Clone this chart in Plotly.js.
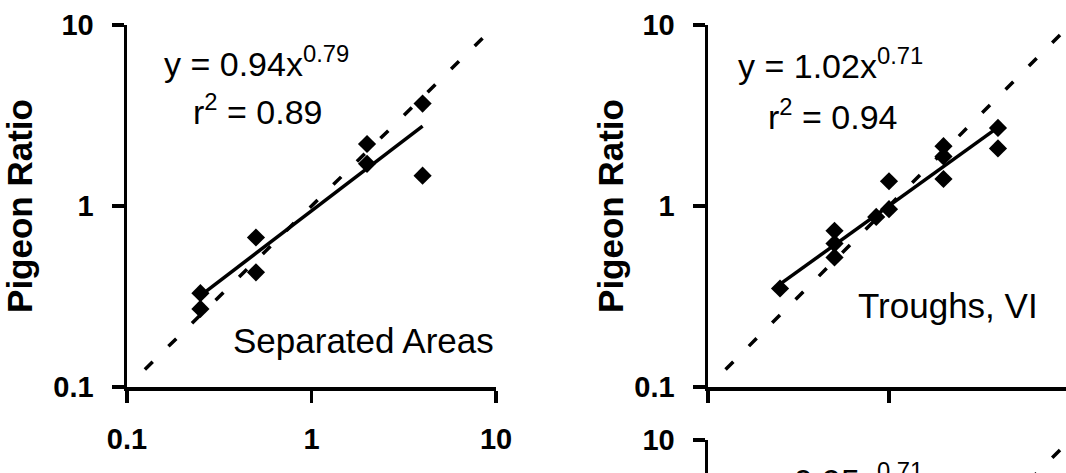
<!DOCTYPE html>
<html>
<head>
<meta charset="utf-8">
<script src="https://cdn.plot.ly/plotly-3.0.1.min.js"></script>
<style>
html, body { margin: 0; padding: 0; overflow: hidden; background: #fff; }
#chart { width: 1100px; height: 900px; }
</style>
</head>
<body>
<div id="chart"></div>
<script>
// ---- data ----
const tickVals = [0.1, 1, 10];
const tickText = ['0.1', '1', '10'];

// Panel 1: Separated Areas
const sepX = [0.25, 0.25, 0.5, 0.5, 2, 2, 4, 4];
const sepY = [0.33, 0.27, 0.67, 0.43, 2.2, 1.71, 3.68, 1.47];
const sepFitX = [0.25, 4];
const sepFitY = [0.32, 2.76];

// Panel 2: Troughs, VI
const troX = [0.25, 0.5, 0.5, 0.5, 0.85, 1, 1, 2, 2, 2, 4, 4];
const troY = [0.35, 0.73, 0.62, 0.52, 0.87, 1.37, 0.96, 2.14, 1.88, 1.41, 2.7, 2.08];
const troFitX = [0.25, 4];
const troFitY = [0.37, 2.72];

// Unity (y = x) reference line
const unityX = [0.125, 9.5];
const unityY = [0.125, 9.5];

// ---- layout helpers (pixel -> paper) ----
const W = 1100, H = 900;
const px = p => p / W;
const py = p => 1 - p / H;

const FONT = 'Liberation Sans, Arial, Helvetica, sans-serif';
const black = '#000';

const dashLine = (xa, ya) => ({
  x: unityX, y: unityY, xaxis: xa, yaxis: ya, mode: 'lines',
  line: { color: black, width: 3.5, dash: '11px,22px' }, hoverinfo: 'skip', showlegend: false
});
const fitLine = (xs, ys, xa, ya) => ({
  x: xs, y: ys, xaxis: xa, yaxis: ya, mode: 'lines',
  line: { color: black, width: 3.5 }, showlegend: false
});
const pts = (xs, ys, xa, ya) => ({
  x: xs, y: ys, xaxis: xa, yaxis: ya, mode: 'markers',
  marker: { symbol: 'diamond', size: 14, color: black }, showlegend: false
});

const data = [
  dashLine('x', 'y'), fitLine(sepFitX, sepFitY, 'x', 'y'), pts(sepX, sepY, 'x', 'y'),
  dashLine('x2', 'y2'), fitLine(troFitX, troFitY, 'x2', 'y2'), pts(troX, troY, 'x2', 'y2'),
  dashLine('x3', 'y3')
];

const baseAxis = {
  type: 'log', range: [-1, 1], showgrid: false, zeroline: false,
  showline: true, linecolor: black, linewidth: 3.5,
  ticks: 'outside', ticklen: 12, tickwidth: 3.5, tickcolor: black,
  tickmode: 'array', tickvals: tickVals, ticktext: tickText,
  tickfont: { family: FONT, size: 29, color: black, weight: 'bold' }
};
const yTitle = standoff => ({
  text: 'Pigeon Ratio', standoff: standoff,
  font: { family: FONT, size: 35, color: black, weight: 'bold' }
});
const innerTicks = (over, anchor) => ({
  type: 'log', range: [-1, 1], overlaying: over, anchor: anchor, side: 'left',
  showgrid: false, zeroline: false, showline: false, showticklabels: false,
  ticks: 'inside', ticklen: 12, tickwidth: 3.5, tickcolor: black,
  tickmode: 'array', tickvals: [1, 10]
});

const panelTop = 25, panelBot = 387;
const p3Top = 440, p3Bot = 802;

const layout = {
  width: W, height: H,
  margin: { l: 0, r: 0, t: 0, b: 0 },
  paper_bgcolor: '#fff', plot_bgcolor: 'rgba(0,0,0,0)',
  showlegend: false,
  font: { family: FONT, color: black },
  xaxis: Object.assign({}, baseAxis, { domain: [px(127), px(496)], anchor: 'y', ticklabelstandoff: 12 }),
  yaxis: Object.assign({}, baseAxis, { domain: [py(panelBot), py(panelTop)], anchor: 'x', ticklabelstandoff: 12, title: yTitle(22) }),
  xaxis2: Object.assign({}, baseAxis, { domain: [px(708), px(1070)], anchor: 'y2', showticklabels: false }),
  yaxis2: Object.assign({}, baseAxis, { domain: [py(panelBot), py(panelTop)], anchor: 'x2', ticklabelstandoff: 12, title: yTitle(1) }),
  xaxis3: Object.assign({}, baseAxis, { domain: [px(708), px(1070)], anchor: 'y3', showticklabels: false }),
  yaxis3: Object.assign({}, baseAxis, { domain: [py(p3Bot), py(p3Top)], anchor: 'x3', ticklabelstandoff: 12, title: yTitle(1) }),
  yaxis4: innerTicks('y2', 'x2'),
  yaxis5: innerTicks('y3', 'x3'),
  annotations: [
    { text: 'y = 0.94x<sup>0.79</sup>', x: px(162), y: py(61) },
    { text: 'r<sup>2</sup> = 0.89', x: px(191), y: py(109) },
    { text: 'Separated Areas', x: px(496), y: py(340), xanchor: 'right', size: 35 },
    { text: 'y = 1.02x<sup>0.71</sup>', x: px(736), y: py(63) },
    { text: 'r<sup>2</sup> = 0.94', x: px(766), y: py(115) },
    { text: 'Troughs, VI', x: px(856), y: py(305), size: 35 },
    { text: 'y = 0.95x<sup>0.71</sup>', x: px(736), y: py(478) }
  ].map(a => ({
    text: a.text, x: a.x, y: a.y, xref: 'paper', yref: 'paper', showarrow: false,
    xanchor: a.xanchor || 'left', yanchor: 'middle',
    font: { family: FONT, size: a.size || 34, color: black }
  }))
};

Plotly.newPlot('chart', data, layout, { staticPlot: true, displayModeBar: false });
</script>
</body>
</html>
